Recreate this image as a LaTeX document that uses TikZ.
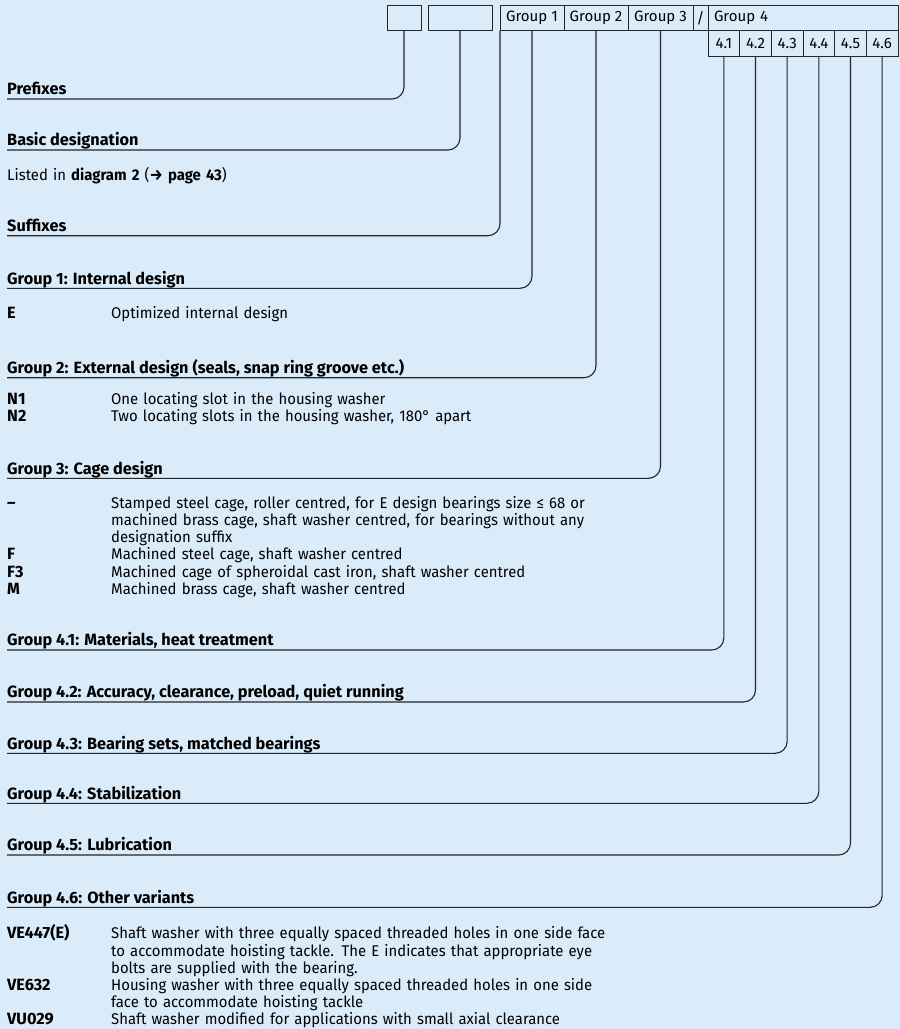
\documentclass[tikz,border=0pt]{standalone}
\usepackage{fontspec}
\setmainfont{Fira Sans}
\newfontfamily\descfont{Fira Sans}[FakeStretch=0.96]
\usetikzlibrary{positioning}
\definecolor{panel}{RGB}{218,235,249}
\definecolor{ink}{HTML}{262626}
\tikzset{
  cell/.style={draw=ink, line width=0.9pt, inner sep=0pt, outer sep=0pt,
               minimum width=#1, minimum height=25.5pt,
               font=\fontsize{15}{17}\selectfont},
  head/.style={anchor=south west, inner sep=0pt, text depth=4pt,
               font=\bfseries\fontsize{16.3}{17.2}\selectfont},
  code/.style={anchor=base west, inner sep=0pt,
               font=\bfseries\fontsize{16.3}{17.2}\selectfont},
  desc/.style={anchor=base west, inner sep=0pt, text width=600pt, align=left,
               font=\descfont\fontsize{15.5}{17.2}\selectfont},
  lead/.style={draw=ink, line width=1.1pt, rounded corners=12pt}
}

\begin{document}
\begin{tikzpicture}[x=1pt, y=-1pt]
  \fill[panel] (0,0) rectangle (900,1029);

  % designation scheme
  \node[cell=34pt, anchor=north west] (pre) at (387,5) {};
  \node[cell=64pt, anchor=north west] (basic) at (428,5) {};
  \node[cell=64pt, anchor=north west] (g1) at (500,5) {Group 1};
  \node[cell=64pt, right=0pt of g1] (g2) {Group 2};
  \node[cell=65pt, right=0pt of g2] (g3) {Group 3};
  \node[cell=15pt, right=0pt of g3] (slash) {/};
  \node[cell=190pt, right=0pt of slash, text width=178pt, align=left] (g4) {Group 4};
  \node[cell=31.67pt, anchor=north west] (q1) at (g4.south west) {4.1};
  \foreach \i [count=\j from 1] in {2,...,6}
    \node[cell=31.67pt, right=0pt of q\j] (q\i) {4.\i};

  % headings
  \node[head] (h-pre)   at (7,99)    {Prefixes};
  \node[head] (h-basic) at (7,150)   {Basic designation};
  \node[head] (h-suf)   at (7,235.7) {Suffixes};
  \node[head] (h-g1)    at (7,288.3) {Group 1: Internal design};
  \node[head] (h-g2)    at (7,377.7) {Group 2: External design (seals, snap ring groove etc.)};
  \node[head] (h-g3)    at (7,478.3) {Group 3: Cage design};
  \node[head] (h-41)    at (7,650)   {Group 4.1: Materials, heat treatment};
  \node[head] (h-42)    at (7,702)   {Group 4.2: Accuracy, clearance, preload, quiet running};
  \node[head] (h-43)    at (7,753.3) {Group 4.3: Bearing sets, matched bearings};
  \node[head] (h-44)    at (7,803.3) {Group 4.4: Stabilization};
  \node[head] (h-45)    at (7,855)   {Group 4.5: Lubrication};
  \node[head] (h-46)    at (7,907.3) {Group 4.6: Other variants};

  % leaders
  \draw[lead] (pre.south) |- (h-pre.south west);
  \draw[lead] (basic.south) |- (h-basic.south west);
  \draw[lead] (g1.south west) |- (h-suf.south west);
  \draw[lead] (g1.south) |- (h-g1.south west);
  \draw[lead] (g2.south) |- (h-g2.south west);
  \draw[lead] (g3.south) |- (h-g3.south west);
  \draw[lead] (q1.south) |- (h-41.south west);
  \draw[lead] (q2.south) |- (h-42.south west);
  \draw[lead] (q3.south) |- (h-43.south west);
  \draw[lead] (q4.south) |- (h-44.south west);
  \draw[lead] (q5.south) |- (h-45.south west);
  \draw[lead] (q6.south) |- (h-46.south west);

  % entries
  \node[desc] (listed) at (7,180.5) {Listed in \textbf{diagram 2} (\textbf{→ page 43})};

  \node[code] (c-e) at (7,318.2) {E};
  \node[desc] (d-e) at (111,318.2) {Optimized internal design};

  \node[code] (c-n1) at (7,404.5) {N1};
  \node[desc] (d-n1) at (111,404.5) {One locating slot in the housing washer};
  \node[code] (c-n2) at (7,421.7) {N2};
  \node[desc] (d-n2) at (111,421.7) {Two locating slots in the housing washer, 180° apart};

  \node[code] (c-std) at (7,508.2) {–};
  \node[desc] (d-std) at (111,508.2) {Stamped steel cage, roller centred, for E design bearings size ≤ 68 or\\
    machined brass cage, shaft washer centred, for bearings without any\\
    designation suffix};
  \node[code] (c-f) at (7,559.8) {F};
  \node[desc] (d-f) at (111,559.8) {Machined steel cage, shaft washer centred};
  \node[code] (c-f3) at (7,577) {F3};
  \node[desc] (d-f3) at (111,577) {Machined cage of spheroidal cast iron, shaft washer centred};
  \node[code] (c-m) at (7,594.2) {M};
  \node[desc] (d-m) at (111,594.2) {Machined brass cage, shaft washer centred};

  \node[code] (c-ve447) at (7,938.8) {VE447(E)};
  \node[desc] (d-ve447) at (111,938.8) {Shaft washer with three equally spaced threaded holes in one side face\\
    to accommodate hoisting tackle. The E indicates that appropriate eye\\
    bolts are supplied with the bearing.};
  \node[code] (c-ve632) at (7,990.4) {VE632};
  \node[desc] (d-ve632) at (111,990.4) {Housing washer with three equally spaced threaded holes in one side\\
    face to accommodate hoisting tackle};
  \node[code] (c-vu029) at (7,1024.8) {VU029};
  \node[desc] (d-vu029) at (111,1024.8) {Shaft washer modified for applications with small axial clearance};
\end{tikzpicture}
\end{document}
